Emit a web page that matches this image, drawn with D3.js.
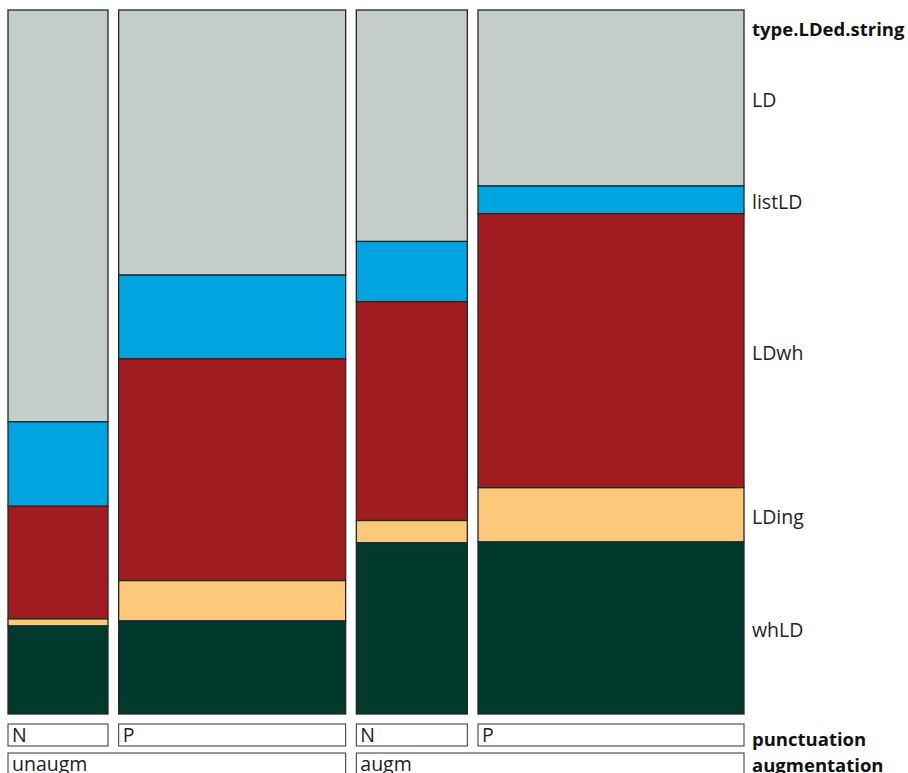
<!DOCTYPE html>
<html>
<head>
<meta charset="utf-8">
<script src="https://cdn.jsdelivr.net/npm/d3@7"></script>
<style>
  body { margin: 0; background: #fff; }
  svg { display: block; font-family: "Open Sans", "Noto Sans", sans-serif; }
</style>
</head>
<body>
<svg id="chart" width="908" height="773"></svg>
<script>
// Levels of the three variables
const augmentation = ["unaugm", "augm"];
const punctuation = ["N", "P"];
const types = ["LD", "listLD", "LDwh", "LDing", "whLD"];
const typeColors = ["#c5cdc9", "#00a4e0", "#a11c20", "#fcc97b", "#003a2c"];

// Counts of each type (in the order of `types`) for every augmentation x punctuation cell
const unaugmN = [117, 24, 32, 2, 25];
const unaugmP = [171, 54, 143, 26, 60];
const augmN = [73, 19, 69, 7, 54];
const augmP = [133, 21, 207, 41, 130];

const cells = [
  { aug: "unaugm", punct: "N", counts: unaugmN },
  { aug: "unaugm", punct: "P", counts: unaugmP },
  { aug: "augm", punct: "N", counts: augmN },
  { aug: "augm", punct: "P", counts: augmP }
];

const svg = d3.select("#chart");
const plotLeft = 8, plotRight = 744, plotTop = 10, plotBottom = 714;
const gap = 10.67;

const totals = cells.map(c => d3.sum(c.counts));
const grand = d3.sum(totals);
const usable = (plotRight - plotLeft) - gap * (cells.length - 1);
const xw = d3.scaleLinear().domain([0, grand]).range([0, usable]);

// column positions
let cx = plotLeft;
cells.forEach((c, i) => {
  c.x0 = cx;
  c.w = xw(totals[i]);
  cx += c.w + gap;
});

const color = d3.scaleOrdinal().domain(types).range(typeColors);

cells.forEach((c, i) => {
  const y = d3.scaleLinear().domain([0, totals[i]]).range([plotTop, plotBottom]);
  const stack = d3.cumsum(c.counts);
  c.segs = types.map((t, j) => ({ type: t, top: y(j ? stack[j - 1] : 0), bot: y(stack[j]) }));
  svg.append("g").selectAll("rect").data(c.segs).join("rect")
    .attr("x", c.x0).attr("width", c.w)
    .attr("y", d => d.top).attr("height", d => d.bot - d.top)
    .attr("fill", d => color(d.type))
    .attr("stroke", "#262626").attr("stroke-width", 1.3);
});

// punctuation label boxes
const labelFont = 19.5;
const titleFont = 18.5;
cells.forEach(c => {
  svg.append("rect").attr("x", c.x0).attr("y", 724).attr("width", c.w).attr("height", 22)
    .attr("fill", "#fff").attr("stroke", "#333").attr("stroke-width", 1);
  svg.append("text").attr("x", c.x0 + 4).attr("y", 742)
    .attr("font-size", labelFont).attr("fill", "#222").text(c.punct);
});

// augmentation label boxes
augmentation.forEach(a => {
  const cs = cells.filter(c => c.aug === a);
  const x0 = cs[0].x0;
  const x1 = cs[cs.length - 1].x0 + cs[cs.length - 1].w;
  svg.append("rect").attr("x", x0).attr("y", 753).attr("width", x1 - x0).attr("height", 30)
    .attr("fill", "#fff").attr("stroke", "#333").attr("stroke-width", 1);
  svg.append("text").attr("x", x0 + 4).attr("y", 771)
    .attr("font-size", labelFont).attr("fill", "#222").text(a);
});

// right-side type labels, centred on the last column's segments
const last = cells[cells.length - 1];
svg.append("text").attr("x", 752).attr("y", 36)
  .attr("font-size", titleFont).attr("font-weight", "bold").attr("fill", "#111").text("type.LDed.string");
last.segs.forEach(s => {
  svg.append("text").attr("x", 752).attr("y", (s.top + s.bot) / 2 + 2)
    .attr("dy", "0.35em").attr("font-size", labelFont).attr("fill", "#222").text(s.type);
});
svg.append("text").attr("x", 752).attr("y", 746)
  .attr("font-size", titleFont).attr("font-weight", "bold").attr("fill", "#111").text("punctuation");
svg.append("text").attr("x", 752).attr("y", 772)
  .attr("font-size", titleFont).attr("font-weight", "bold").attr("fill", "#111").text("augmentation");
</script>
</body>
</html>
